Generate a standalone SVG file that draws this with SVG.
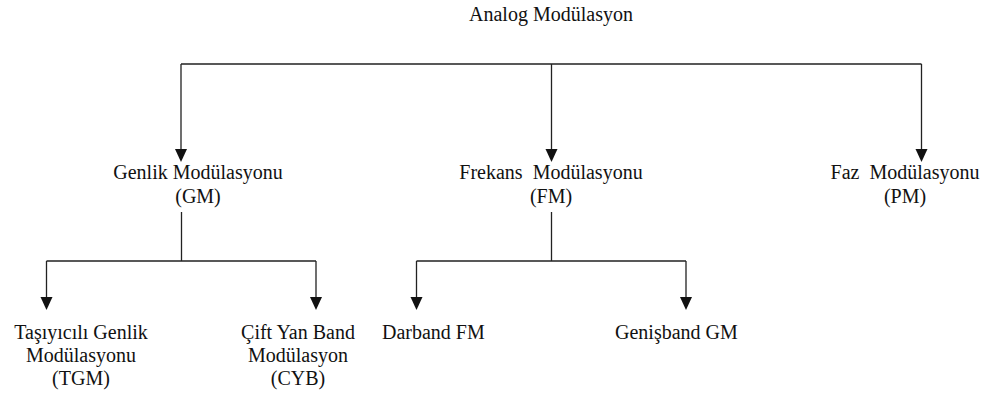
<svg xmlns="http://www.w3.org/2000/svg" width="984" height="400" viewBox="0 0 984 400">
  <style>
    text { font-family: "Liberation Serif", "Times New Roman", serif; font-size: 20px; fill: #111; text-anchor: middle; white-space: pre; }
    text.start { text-anchor: start; }
    .wire { fill: none; stroke: #222; stroke-width: 1.3; }
    .head { fill: #111; }
  </style>

  <rect width="984" height="400" fill="#fff"/>

  <!-- connectors: trunk lines, branch bars and filled arrowheads -->
  <g id="connectors">
    <path class="wire" d="M181,64 H921.5 M181,64 V149 M551.5,64 V149 M921.5,64 V149"/>
    <path class="head" d="M175,149 H187 L181,162 Z"/>
    <path class="head" d="M545.5,149 H557.5 L551.5,162 Z"/>
    <path class="head" d="M915.5,149 H927.5 L921.5,162 Z"/>

    <path class="wire" d="M181.5,212 V261 M46.5,261 H316 M46.5,261 V297 M316,261 V297"/>
    <path class="head" d="M40.5,297 H52.5 L46.5,310 Z"/>
    <path class="head" d="M310,297 H322 L316,310 Z"/>

    <path class="wire" d="M551.5,212 V261 M416.5,261 H686 M416.5,261 V297 M686,261 V297"/>
    <path class="head" d="M410.5,297 H422.5 L416.5,310 Z"/>
    <path class="head" d="M680,297 H692 L686,310 Z"/>
  </g>

  <g id="root"><text x="551" y="21">Analog Modülasyon</text></g>

  <g id="gm">
    <text x="198" y="179">Genlik Modülasyonu</text>
    <text x="198" y="203">(GM)</text>
  </g>
  <g id="fm">
    <text x="551" y="179">Frekans  Modülasyonu</text>
    <text x="551" y="203">(FM)</text>
  </g>
  <g id="pm">
    <text x="905" y="179">Faz  Modülasyonu</text>
    <text x="905" y="203">(PM)</text>
  </g>

  <g id="tgm">
    <text x="81" y="339">Taşıyıcılı Genlik</text>
    <text x="81" y="362">Modülasyonu</text>
    <text x="81" y="385">(TGM)</text>
  </g>
  <g id="cyb">
    <text x="298" y="339">Çift Yan Band</text>
    <text x="298" y="362">Modülasyon</text>
    <text x="298" y="385">(CYB)</text>
  </g>
  <g id="darband"><text class="start" x="382" y="339">Darband FM</text></g>
  <g id="genisband"><text class="start" x="615" y="339">Genişband GM</text></g>
</svg>
